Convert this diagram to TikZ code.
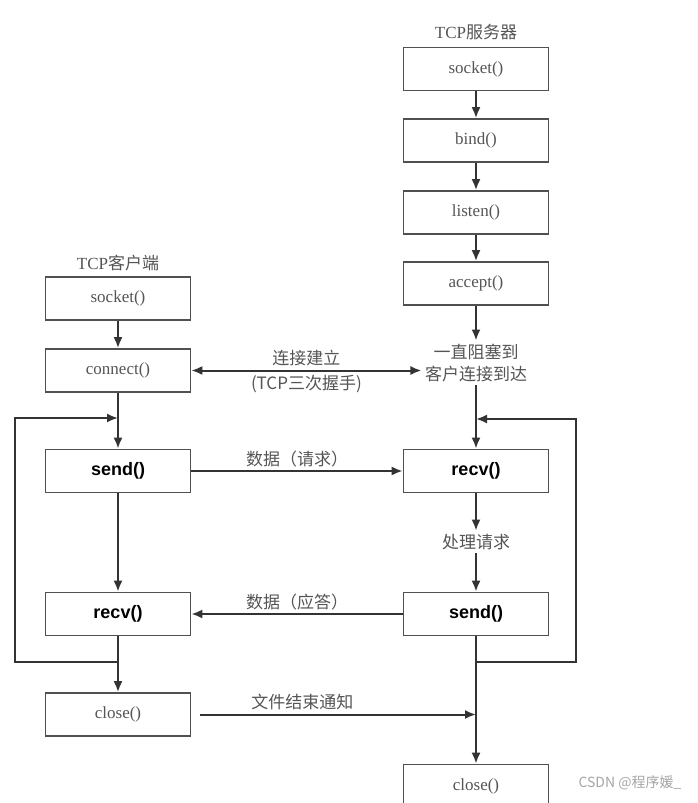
\documentclass[tikz,border=0pt]{standalone}
\usepackage{fontspec}
\setmainfont{Liberation Serif}
\newfontfamily\cjk{Noto Sans CJK SC}
\newfontfamily\boldsans{Liberation Sans}
\usetikzlibrary{arrows.meta}
\definecolor{boxgray}{HTML}{505050}
\definecolor{linegray}{HTML}{333333}
\definecolor{txtgray}{HTML}{555555}
\tikzset{
	func/.style={draw=boxgray,line width=1.7pt,minimum width=145pt,minimum height=43pt,inner sep=0pt,text=txtgray,font=\fontsize{17}{20}\selectfont},
	boldbox/.style={func,text=black,font=\boldsans\bfseries\fontsize{18}{21}\selectfont},
	lbl/.style={text=txtgray,font=\cjk\fontsize{17}{22}\selectfont},
	arr/.style={draw=linegray,line width=2pt,-{Latex[length=11pt,width=9pt]}},
	dblarr/.style={draw=linegray,line width=2pt,{Latex[length=11pt,width=9pt]}-{Latex[length=11pt,width=9pt]}},
	ln/.style={draw=linegray,line width=2pt}
}
\begin{document}
\begin{tikzpicture}[x=1pt,y=-1pt]
	\clip (0,0) rectangle (697,803);
	\fill[white] (0,0) rectangle (697,803);

	% server side
	\node[lbl] (srv_title) at (476,32) {\rmfamily TCP\cjk 服务器};
	\node[func] (srv_socket) at (476,69) {socket()};
	\node[func] (srv_bind) at (476,140.5) {bind()};
	\node[func] (srv_listen) at (476,212.5) {listen()};
	\node[func] (srv_accept) at (476,283.5) {accept()};
	\node[lbl,align=center] (srv_wait) at (476,363) {一直阻塞到\\客户连接到达};
	\node[boldbox] (srv_recv) at (476,471) {recv()};
	\node[lbl] (srv_proc) at (476,542) {处理请求};
	\node[boldbox] (srv_send) at (476,614) {send()};
	\node[func] (srv_close) at (476,786) {close()};

	% client side
	\node[lbl] (cli_title) at (118,263) {\rmfamily TCP\cjk 客户端};
	\node[func] (cli_socket) at (118,298.5) {socket()};
	\node[func] (cli_connect) at (118,370.5) {connect()};
	\node[boldbox] (cli_send) at (118,471) {send()};
	\node[boldbox] (cli_recv) at (118,614) {recv()};
	\node[func] (cli_close) at (118,714.5) {close()};

	% loop corners
	\coordinate (cli_loop_bot) at (118,662);
	\coordinate (cli_loop_c1) at (15,662);
	\coordinate (cli_loop_c2) at (15,418);
	\coordinate (cli_loop_join) at (118,418);
	\coordinate (srv_loop_bot) at (476,662);
	\coordinate (srv_loop_c1) at (576,662);
	\coordinate (srv_loop_c2) at (576,419);
	\coordinate (srv_loop_join) at (476,419);

	% server flow
	\draw[arr] (srv_socket) -- (srv_bind);
	\draw[arr] (srv_bind) -- (srv_listen);
	\draw[arr] (srv_listen) -- (srv_accept);
	\draw[arr] (srv_accept) -- (srv_wait);
	\draw[arr] (srv_wait) -- (srv_recv);
	\draw[arr] (srv_recv) -- (srv_proc);
	\draw[arr] (srv_proc) -- (srv_send);
	\draw[arr] (srv_send) -- (srv_close);
	\draw[arr] (srv_loop_bot) -- (srv_loop_c1) -- (srv_loop_c2) -- (srv_loop_join);

	% client flow
	\draw[arr] (cli_socket) -- (cli_connect);
	\draw[arr] (cli_connect) -- (cli_send);
	\draw[arr] (cli_send) -- (cli_recv);
	\draw[arr] (cli_recv) -- (cli_close);
	\draw[arr] (cli_loop_bot) -- (cli_loop_c1) -- (cli_loop_c2) -- (cli_loop_join);

	% messages
	\draw[dblarr] (cli_connect.east) -- (cli_connect.east -| srv_wait.west)
		node[lbl,midway,above] {连接建立}
		node[lbl,midway,below] {(TCP三次握手)};
	\draw[arr] (cli_send) -- (srv_recv) node[lbl,midway,above] {数据（请求）};
	\draw[arr] (srv_send) -- (cli_recv) node[lbl,midway,above] {数据（应答）};
	\draw[arr] ([xshift=9pt]cli_close.east) -- (cli_close.east -| srv_send)
		node[lbl,pos=0.37,above] {文件结束通知};

	\node[text=gray!70,font=\cjk\fontsize{14}{16}\selectfont] (mark) at (630,783) {CSDN @程序媛\_};
\end{tikzpicture}
\end{document}
